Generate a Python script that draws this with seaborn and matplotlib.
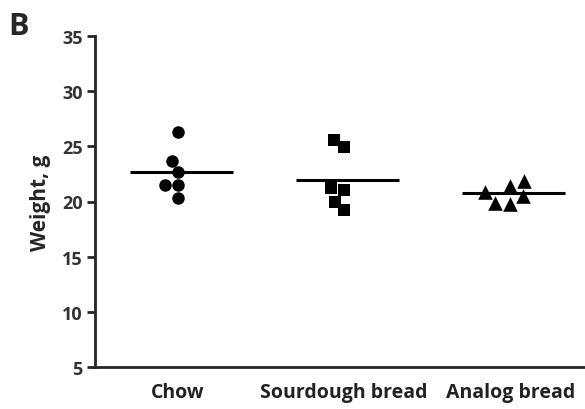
import matplotlib
matplotlib.use("Agg")
import matplotlib.pyplot as plt
import seaborn as sns
import pandas as pd
import numpy as np

categories = ["Chow", "Sourdough bread", "Analog bread"]
chow = [26.3, 23.7, 22.7, 21.5, 21.5, 20.3]
sourdough = [25.6, 24.9, 21.2, 21.0, 20.0, 19.2]
analog = [21.4, 20.5, 21.9, 19.8, 19.9, 20.9]
markers = ["o", "s", "^"]
yticks = [5, 10, 15, 20, 25, 30, 35]

df = pd.DataFrame({
    "group": np.repeat(categories, [len(chow), len(sourdough), len(analog)]),
    "weight": chow + sourdough + analog,
})

sns.set_style("ticks")
plt.rcParams["font.family"] = ["Open Sans", "DejaVu Sans"]

fig = plt.figure(figsize=(5.85, 4.1), dpi=100)
ax = fig.add_axes([95/585, (410-368)/410, (585-95)/585, (368-37)/410])

sizes = {"o": 9, "s": 9, "^": 10.5}
for cat, m in zip(categories, markers):
    sub = df[df["group"] == cat]
    sns.swarmplot(data=sub, x="group", y="weight", order=categories,
                  marker=m, color="black", size=sizes[m], ax=ax, linewidth=0)

means = df.groupby("group")["weight"].mean()
for i, cat in enumerate(categories):
    ax.hlines(means[cat], i - 0.29, i + 0.33, color="black", lw=2.2, zorder=1)

ax.set_xlim(-0.5, 2.45)
ax.set_ylim(5, 35)
ax.set_yticks(yticks)
ax.set_yticklabels([str(t) for t in yticks], fontsize=13, fontweight="bold", color="#333333")
ax.set_xticks(range(len(categories)))
ax.set_xticklabels(categories, fontsize=14, fontweight="bold", color="#222222")
ax.tick_params(axis="x", length=0, pad=11)
ax.tick_params(axis="y", length=6, width=2, pad=3)
ax.set_xlabel("")
ax.set_ylabel("Weight, g", fontsize=15, fontweight="bold", labelpad=8)
for s in ["top", "right"]:
    ax.spines[s].set_visible(False)
for s in ["left", "bottom"]:
    ax.spines[s].set_linewidth(2)

fig.text(8/585, 1 - 35/410, "B", fontsize=22, fontweight="bold")

fig.savefig("out.png", dpi=100)
